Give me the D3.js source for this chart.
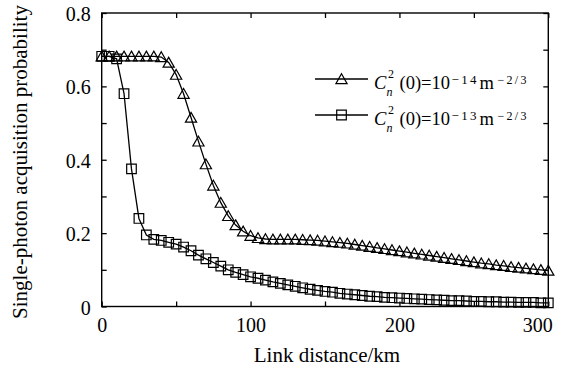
<!DOCTYPE html>
<html><head><meta charset="utf-8">
<script src="https://cdn.jsdelivr.net/npm/d3@7"></script>
<style>body{margin:0;background:#fff} svg{display:block}
svg text{font-family:"Liberation Serif","Times New Roman","DejaVu Serif",serif !important;}</style>
</head><body><svg id="c" width="561" height="368"></svg>
<script>
const distanceKm = [0,5,10,15,20,25,30,35,40,45,50,55,60,65,70,75,80,85,90,95,100,105,110,115,120,125,130,135,140,145,150,155,160,165,170,175,180,185,190,195,200,205,210,215,220,225,230,235,240,245,250,255,260,265,270,275,280,285,290,295,300];
const probCn14 = [0.682,0.682,0.682,0.682,0.682,0.682,0.682,0.682,0.680,0.665,0.632,0.580,0.515,0.450,0.388,0.330,0.283,0.247,0.222,0.205,0.193,0.187,0.184,0.183,0.183,0.183,0.183,0.182,0.181,0.180,0.178,0.176,0.174,0.172,0.169,0.166,0.163,0.160,0.157,0.154,0.151,0.148,0.145,0.142,0.139,0.136,0.133,0.130,0.127,0.124,0.121,0.118,0.116,0.113,0.111,0.108,0.106,0.104,0.102,0.100,0.098];
const probCn13 = [0.682,0.682,0.675,0.580,0.375,0.240,0.195,0.183,0.180,0.175,0.170,0.162,0.152,0.140,0.130,0.120,0.110,0.100,0.093,0.087,0.081,0.077,0.072,0.067,0.063,0.059,0.055,0.051,0.047,0.044,0.041,0.039,0.036,0.034,0.032,0.030,0.028,0.027,0.025,0.024,0.023,0.022,0.021,0.020,0.019,0.018,0.017,0.016,0.016,0.015,0.014,0.014,0.013,0.013,0.012,0.012,0.011,0.011,0.011,0.010,0.010];
const xTicks = [0,50,100,150,200,250,300];
const xLabelTicks = [0,100,200,300];
const yTicks = [0,0.1,0.2,0.3,0.4,0.5,0.6,0.7,0.8];
const yLabelTicks = [0,0.2,0.4,0.6,0.8];
const legendExponents = ["\u221214","\u221213"];
const seriesMarkers = ["triangle","square"];

const FONT = "Liberation Serif";
const svg = d3.select("#c");
const L = 101.7, R = 548.3, T = 13, B = 306.5;
const x = d3.scaleLinear().domain([0,300]).range([L,R]);
const y = d3.scaleLinear().domain([0,0.8]).range([B,T]);

function styleAxis(g){
  g.select(".domain").remove();
  g.selectAll(".tick line").attr("stroke","#000").attr("stroke-width",1.3);
  g.selectAll("text").attr("font-family",FONT).attr("font-size",20).attr("fill","#000");
}
svg.append("g").attr("transform",`translate(0,${B})`)
  .call(d3.axisBottom(x).tickValues(xTicks).tickSize(-5).tickPadding(11)
    .tickFormat(d => xLabelTicks.includes(d) ? d : ""))
  .call(styleAxis)
  .call(g => g.selectAll(".tick text").filter(d => d === 300).attr("text-anchor","end").attr("dx",4));
svg.append("g").attr("transform",`translate(0,${T})`)
  .call(d3.axisTop(x).tickValues(xTicks).tickSize(-5).tickFormat(""))
  .call(styleAxis);
svg.append("g").attr("transform",`translate(${L},0)`)
  .call(d3.axisLeft(y).tickValues(yTicks).tickSize(-5).tickPadding(11)
    .tickFormat(d => yLabelTicks.some(v => Math.abs(v-d)<1e-9) ? (d===0?"0":d3.format(".1f")(d)) : ""))
  .call(styleAxis)
  .call(g => g.selectAll(".tick text").attr("dy","0.38em"));
svg.append("g").attr("transform",`translate(${R},0)`)
  .call(d3.axisRight(y).tickValues(yTicks).tickSize(-5).tickFormat(""))
  .call(styleAxis);

svg.append("rect").attr("x",L).attr("y",T).attr("width",R-L).attr("height",B-T)
  .attr("fill","none").attr("stroke","#000").attr("stroke-width",1.4);

function markerPath(type){
  if(type==="triangle") return "M0,-5.2L5.6,4.6L-5.6,4.6Z";
  return "M-4.8,-4.8H4.8V4.8H-4.8Z";
}

const line = d3.line().x((d,i)=>x(distanceKm[i])).y(d=>y(d));
[probCn14, probCn13].forEach((vals, k) => {
  svg.append("path").datum(vals).attr("d",line)
    .attr("fill","none").attr("stroke","#000").attr("stroke-width",1.3);
  svg.append("g").selectAll("path").data(vals).join("path")
    .attr("d", markerPath(seriesMarkers[k]))
    .attr("transform",(d,i)=>`translate(${x(distanceKm[i])},${y(d)})`)
    .attr("fill","none").attr("stroke","#000").attr("stroke-width",1.2);
});

// legend
legendExponents.forEach((ex, k) => {
  const cy = 79 + k*36, base = cy + 9.5;
  const g = svg.append("g");
  g.append("line").attr("x1",315).attr("x2",368).attr("y1",cy).attr("y2",cy)
    .attr("stroke","#000").attr("stroke-width",1.3);
  g.append("path").attr("d",markerPath(seriesMarkers[k]))
    .attr("transform",`translate(341.5,${cy})`).attr("fill","none")
    .attr("stroke","#000").attr("stroke-width",1.2);
  const t = (xx, yy, s, size, italic, len) => {
    const e = g.append("text").attr("x",xx).attr("y",yy)
      .attr("font-family",FONT).attr("font-size",size)
      .attr("font-style",italic?"italic":"normal").attr("fill","#000").text(s);
    if (len) e.attr("textLength",len).attr("lengthAdjust","spacing");
    return e;
  };
  t(374, base, "C", 18.5, true);
  t(388, base-10.5, "2", 12, false);
  t(386.5, base+7, "n", 12, true);
  t(399.5, base, "(0)=10", 18.5, false);
  t(451.5, base-4.5, ex, 13, false, 25);
  t(479.5, base, "m", 18.5, false);
  t(497.5, base-4.5, "\u22122/3", 12, false, 29);
});

svg.append("text").attr("x",327).attr("y",362).attr("text-anchor","middle")
  .attr("font-family",FONT).attr("font-size",21).attr("fill","#000").text("Link distance/km");
svg.append("text").attr("transform","translate(27,162) rotate(-90)").attr("text-anchor","middle")
  .attr("font-family",FONT).attr("font-size",21).attr("fill","#000").text("Single-photon acquisition probability");
</script></body></html>
